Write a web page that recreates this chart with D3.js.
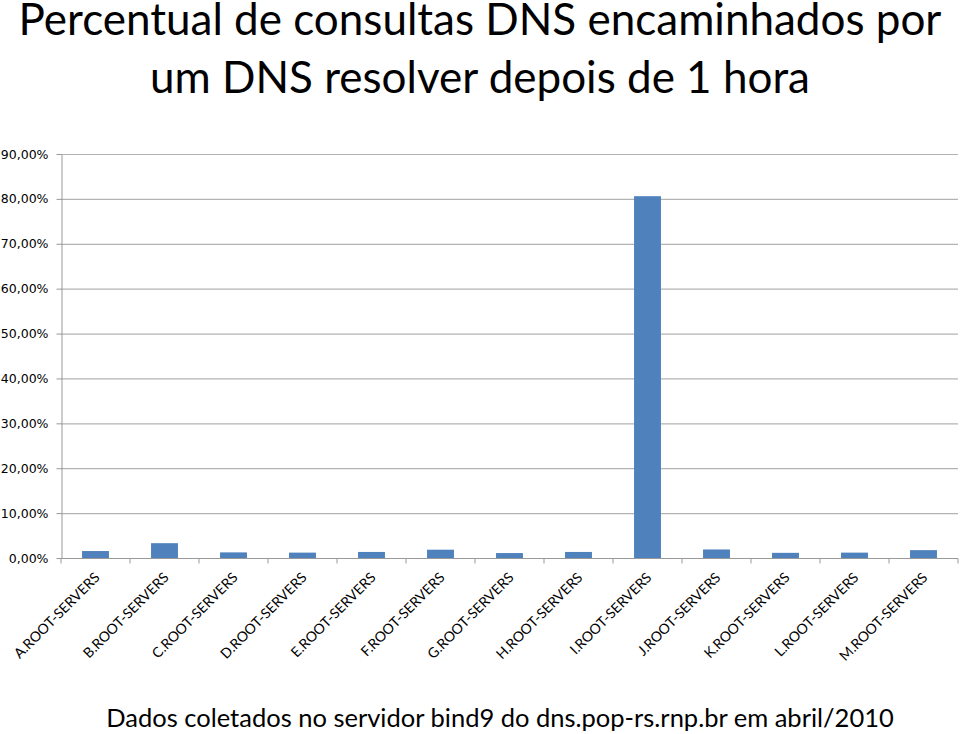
<!DOCTYPE html>
<html><head><meta charset="utf-8">
<script src="https://cdn.jsdelivr.net/npm/d3@7"></script>
<style>body{margin:0;background:#fff}svg{display:block}</style>
</head><body>
<svg id="c" width="960" height="734"></svg>
<script>
const categories = ["A.ROOT-SERVERS","B.ROOT-SERVERS","C.ROOT-SERVERS","D.ROOT-SERVERS","E.ROOT-SERVERS","F.ROOT-SERVERS","G.ROOT-SERVERS","H.ROOT-SERVERS","I.ROOT-SERVERS","J.ROOT-SERVERS","K.ROOT-SERVERS","L.ROOT-SERVERS","M.ROOT-SERVERS"];
const values = [1.55, 3.3, 1.25, 1.2, 1.35, 1.85, 1.1, 1.35, 80.6, 1.9, 1.15, 1.2, 1.75];
const yTicks = [0,10,20,30,40,50,60,70,80,90];
const titleLines = ["Percentual de consultas DNS encaminhados por","um DNS resolver depois de 1 hora"];
const subtitle = "Dados coletados no servidor bind9 do dns.pop-rs.rnp.br em abril/2010";

const svg = d3.select("#c");
const m = {left:61, right:958, top:154, bottom:558};
const x = d3.scaleBand().domain(categories).range([m.left, m.right]).paddingInner(0.61).paddingOuter(0.305);
const y = d3.scaleLinear().domain([0,90]).range([m.bottom, m.top]);

// title
svg.append("g").selectAll("text").data(titleLines).join("text")
  .attr("x",480).attr("y",(d,i)=>35+i*58).attr("text-anchor","middle")
  .attr("font-family","Lato, 'Open Sans', sans-serif").attr("font-size",44).attr("fill","#000")
  .text(d=>d);

// gridlines
svg.append("g").selectAll("line").data(yTicks.filter(d=>d>0)).join("line")
  .attr("x1",m.left).attr("x2",m.right).attr("y1",d=>y(d)+0.5).attr("y2",d=>y(d)+0.5)
  .attr("stroke","#b3b3b3").attr("stroke-width",1.2);

// y axis
const ya = svg.append("g").attr("transform",`translate(${m.left+0.5},0)`)
  .call(d3.axisLeft(y).tickValues(yTicks).tickSize(5).tickSizeOuter(0)
    .tickFormat(d=>d3.format(".2f")(d).replace(".",",")+"%"));
ya.select(".domain").attr("stroke","#999");
ya.selectAll(".tick line").attr("stroke","#999");
ya.selectAll(".tick text").attr("font-family","'DejaVu Sans', Verdana, sans-serif").attr("font-size",12.5).attr("fill","#000").attr("x",-13);

// bars
svg.append("g").selectAll("rect").data(values).join("rect")
  .attr("x",(d,i)=>x(categories[i])).attr("width",x.bandwidth())
  .attr("y",d=>y(d)).attr("height",d=>y(0)-y(d))
  .attr("fill","#4f81bd");

// x axis
const step = x.step();
const xa = svg.append("g").attr("transform",`translate(0,${m.bottom+0.5})`);
xa.append("line").attr("x1",m.left).attr("x2",m.right).attr("stroke","#999");
xa.selectAll("line.t").data(d3.range(categories.length+1)).join("line").attr("class","t")
  .attr("x1",i=>m.left+i*step).attr("x2",i=>m.left+i*step).attr("y1",0).attr("y2",5).attr("stroke","#999");
xa.selectAll("text").data(categories).join("text")
  .attr("transform",d=>`translate(${x(d)+x.bandwidth()/2+5},${20}) rotate(-45)`)
  .attr("text-anchor","end")
  .attr("font-family","Lato, 'Open Sans', sans-serif").attr("font-size",14).attr("fill","#000")
  .text(d=>d);

// subtitle
svg.append("text").attr("x",500).attr("y",727).attr("text-anchor","middle")
  .attr("font-family","Lato, 'Open Sans', sans-serif").attr("font-size",25.5).attr("fill","#000")
  .text(subtitle);
</script>
</body></html>
